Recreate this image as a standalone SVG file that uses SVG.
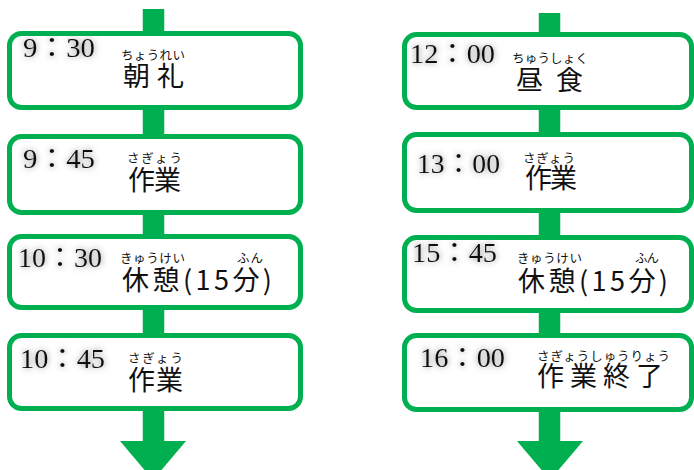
<svg xmlns="http://www.w3.org/2000/svg" width="694" height="470" viewBox="0 0 694 470">
<style>
.box{fill:#fff;stroke:#00B050;stroke-width:5}
.stem{stroke:#00B050;stroke-width:21.5;fill:none}
.head{fill:#00B050}
.time{font-family:"Liberation Serif","Noto Sans CJK JP",serif;font-size:27px;fill:#111;filter:url(#glow)}
.main{font-family:"Noto Sans CJK JP","Noto Sans",sans-serif;font-size:27px;fill:#111}
.ruby{font-family:"Noto Sans CJK JP","Noto Sans",sans-serif;font-size:12.5px;fill:#111}
</style>
<defs>
<filter id="glow" x="-25%" y="-50%" width="150%" height="200%">
<feGaussianBlur in="SourceAlpha" stdDeviation="3.4" result="b"/>
<feFlood flood-color="#7a7a7a" flood-opacity="0.95"/>
<feComposite in2="b" operator="in" result="s"/>
<feMerge><feMergeNode in="s"/><feMergeNode in="SourceGraphic"/></feMerge>
</filter>
</defs>
<rect width="694" height="470" fill="#fff"/>
<g id="connectors">
<line class="stem" x1="153.5" y1="9" x2="153.5" y2="442"/>
<polygon class="head" points="120,441 186,441 153,480"/>
<line class="stem" x1="549.5" y1="13" x2="549.5" y2="442"/>
<polygon class="head" points="517,441 583,441 550,480"/>
</g>
<g id="n-0930">
<rect class="box" x="9.5" y="33.5" width="291" height="74" rx="12"/>
<text class="time" x="23" y="57" textLength="72" lengthAdjust="spacingAndGlyphs">9：30</text>
<text class="ruby" x="121" y="60" textLength="64" lengthAdjust="spacing">ちょうれい</text>
<text class="main" x="123" y="86" textLength="61" lengthAdjust="spacing">朝礼</text>
</g>
<g id="n-0945">
<rect class="box" x="9.5" y="136.5" width="291" height="76" rx="12"/>
<text class="time" x="23" y="168" textLength="72" lengthAdjust="spacingAndGlyphs">9：45</text>
<text class="ruby" x="127" y="163" textLength="55" lengthAdjust="spacing">さぎょう</text>
<text class="main" x="128" y="190" textLength="53" lengthAdjust="spacing">作業</text>
</g>
<g id="n-1030">
<rect class="box" x="9.5" y="236.5" width="291" height="71" rx="12"/>
<text class="time" x="18" y="267" textLength="84" lengthAdjust="spacingAndGlyphs">10：30</text>
<text class="ruby" x="120" y="263" textLength="65" lengthAdjust="spacing">きゅうけい</text>
<text class="ruby" x="237" y="263" textLength="26" lengthAdjust="spacing">ふん</text>
<text class="main" x="122" y="290" textLength="150" lengthAdjust="spacing">休憩(15分)</text>
</g>
<g id="n-1045">
<rect class="box" x="9.5" y="335.5" width="291" height="73" rx="12"/>
<text class="time" x="20" y="368" textLength="85" lengthAdjust="spacingAndGlyphs">10：45</text>
<text class="ruby" x="128" y="363" textLength="55" lengthAdjust="spacing">さぎょう</text>
<text class="main" x="128" y="390" textLength="55" lengthAdjust="spacing">作業</text>
</g>
<g id="n-1200">
<rect class="box" x="404.5" y="34.5" width="287" height="73" rx="12"/>
<text class="time" x="410" y="63" textLength="85" lengthAdjust="spacingAndGlyphs">12：00</text>
<text class="ruby" x="512" y="63" textLength="76" lengthAdjust="spacing">ちゅうしょく</text>
<text class="main" x="516" y="90" textLength="67" lengthAdjust="spacing">昼食</text>
</g>
<g id="n-1300">
<rect class="box" x="404.5" y="134.5" width="287" height="76" rx="12"/>
<text class="time" x="417" y="173" textLength="83" lengthAdjust="spacingAndGlyphs">13：00</text>
<text class="ruby" x="523" y="163" textLength="52" lengthAdjust="spacing">さぎょう</text>
<text class="main" x="525" y="188" textLength="52" lengthAdjust="spacing">作業</text>
</g>
<g id="n-1545">
<rect class="box" x="404.5" y="237.5" width="287" height="73" rx="12"/>
<text class="time" x="412" y="262" textLength="85" lengthAdjust="spacingAndGlyphs">15：45</text>
<text class="ruby" x="517" y="263" textLength="65" lengthAdjust="spacing">きゅうけい</text>
<text class="ruby" x="635" y="263" textLength="24" lengthAdjust="spacing">ふん</text>
<text class="main" x="518" y="291" textLength="150" lengthAdjust="spacing">休憩(15分)</text>
</g>
<g id="n-1600">
<rect class="box" x="404.5" y="335.5" width="287" height="74" rx="12"/>
<text class="time" x="420" y="367" textLength="85" lengthAdjust="spacingAndGlyphs">16：00</text>
<text class="ruby" x="537" y="361" textLength="133" lengthAdjust="spacing">さぎょうしゅうりょう</text>
<text class="main" x="537" y="386" textLength="126" lengthAdjust="spacing">作業終了</text>
</g>
</svg>
